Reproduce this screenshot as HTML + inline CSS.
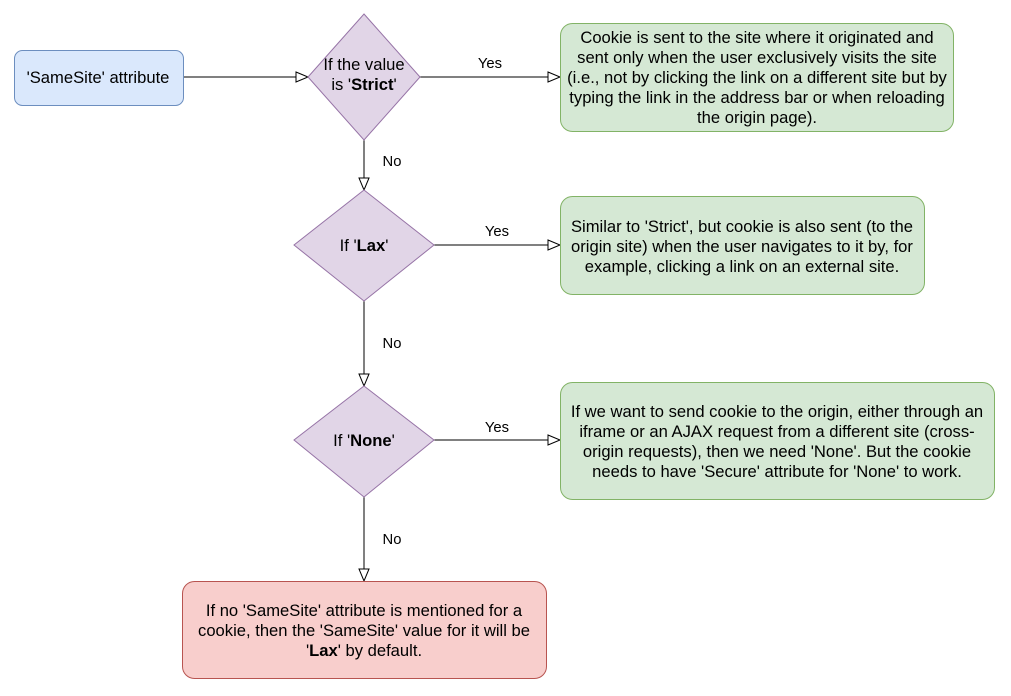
<!DOCTYPE html>
<html><head><meta charset="utf-8"><style>
html,body{margin:0;padding:0;background:#fff;}
svg{display:block;}
text{font-family:"Liberation Sans",Helvetica,Arial,sans-serif;font-size:16.6px;fill:#000;}
.c{text-anchor:middle;}
.l{font-size:14.8px;}
</style></head><body>
<svg width="1011" height="696" viewBox="0 0 1011 696" xmlns="http://www.w3.org/2000/svg">
<defs>
<marker id="a" markerWidth="14" markerHeight="12" refX="13" refY="6" orient="auto" markerUnits="userSpaceOnUse">
<path d="M1,1 L13,6 L1,11 Z" fill="#fff" stroke="#000" stroke-width="1"/>
</marker>
</defs>
<g stroke="#000" stroke-width="1" fill="none">
<line x1="183" y1="77" x2="308" y2="77" marker-end="url(#a)"/>
<line x1="420" y1="77" x2="560" y2="77" marker-end="url(#a)"/>
<line x1="434" y1="245" x2="560" y2="245" marker-end="url(#a)"/>
<line x1="434" y1="440" x2="560" y2="440" marker-end="url(#a)"/>
<line x1="364" y1="140" x2="364" y2="190" marker-end="url(#a)"/>
<line x1="364" y1="301" x2="364" y2="386" marker-end="url(#a)"/>
<line x1="364" y1="497" x2="364" y2="581" marker-end="url(#a)"/>
</g>
<rect x="14.5" y="50.5" width="169" height="55" rx="8" fill="#dae8fc" stroke="#6c8ebf"/>
<text class="c" x="98" y="83">'SameSite' attribute</text>

<polygon points="364,14 420,77 364,140 308,77" fill="#e1d5e7" stroke="#9673a6"/>
<text class="c" x="364" y="70">If the value</text>
<text class="c" x="364" y="90">is '<tspan font-weight="bold">Strict</tspan>'</text>

<polygon points="364,190 434,245 364,301 294,245" fill="#e1d5e7" stroke="#9673a6"/>
<text class="c" x="364" y="251">If '<tspan font-weight="bold">Lax</tspan>'</text>

<polygon points="364,386 434,440 364,497 294,440" fill="#e1d5e7" stroke="#9673a6"/>
<text class="c" x="364" y="446">If '<tspan font-weight="bold">None</tspan>'</text>

<rect x="560.5" y="23.5" width="393" height="108" rx="12" fill="#d5e8d4" stroke="#82b366"/>
<text class="c" x="757" y="43">Cookie is sent to the site where it originated and</text>
<text class="c" x="757" y="63">sent only when the user exclusively visits the site</text>
<text class="c" x="757" y="83">(i.e., not by clicking the link on a different site but by</text>
<text class="c" x="757" y="103">typing the link in the address bar or when reloading</text>
<text class="c" x="757" y="123">the origin page).</text>

<rect x="560.5" y="196.5" width="364" height="98" rx="12" fill="#d5e8d4" stroke="#82b366"/>
<text class="c" x="742" y="232">Similar to 'Strict', but cookie is also sent (to the</text>
<text class="c" x="742" y="252">origin site) when the user navigates to it by, for</text>
<text class="c" x="742" y="272">example, clicking a link on an external site.</text>

<rect x="560.5" y="382.5" width="434" height="117" rx="12" fill="#d5e8d4" stroke="#82b366"/>
<text class="c" x="777" y="417">If we want to send cookie to the origin, either through an</text>
<text class="c" x="777" y="437">iframe or an AJAX request from a different site (cross-</text>
<text class="c" x="777" y="457">origin requests), then we need 'None'. But the cookie</text>
<text class="c" x="777" y="477">needs to have 'Secure' attribute for 'None' to work.</text>

<rect x="182.5" y="581.5" width="364" height="97" rx="12" fill="#f8cecc" stroke="#b85450"/>
<text class="c" x="364" y="616">If no 'SameSite' attribute is mentioned for a</text>
<text class="c" x="364" y="636">cookie, then the 'SameSite' value for it will be</text>
<text class="c" x="364" y="656">'<tspan font-weight="bold">Lax</tspan>' by default.</text>

<text class="c l" x="490" y="68">Yes</text>
<text class="c l" x="497" y="236">Yes</text>
<text class="c l" x="497" y="432">Yes</text>
<text class="c l" x="392" y="166">No</text>
<text class="c l" x="392" y="348">No</text>
<text class="c l" x="392" y="544">No</text>
</svg>
</body></html>
